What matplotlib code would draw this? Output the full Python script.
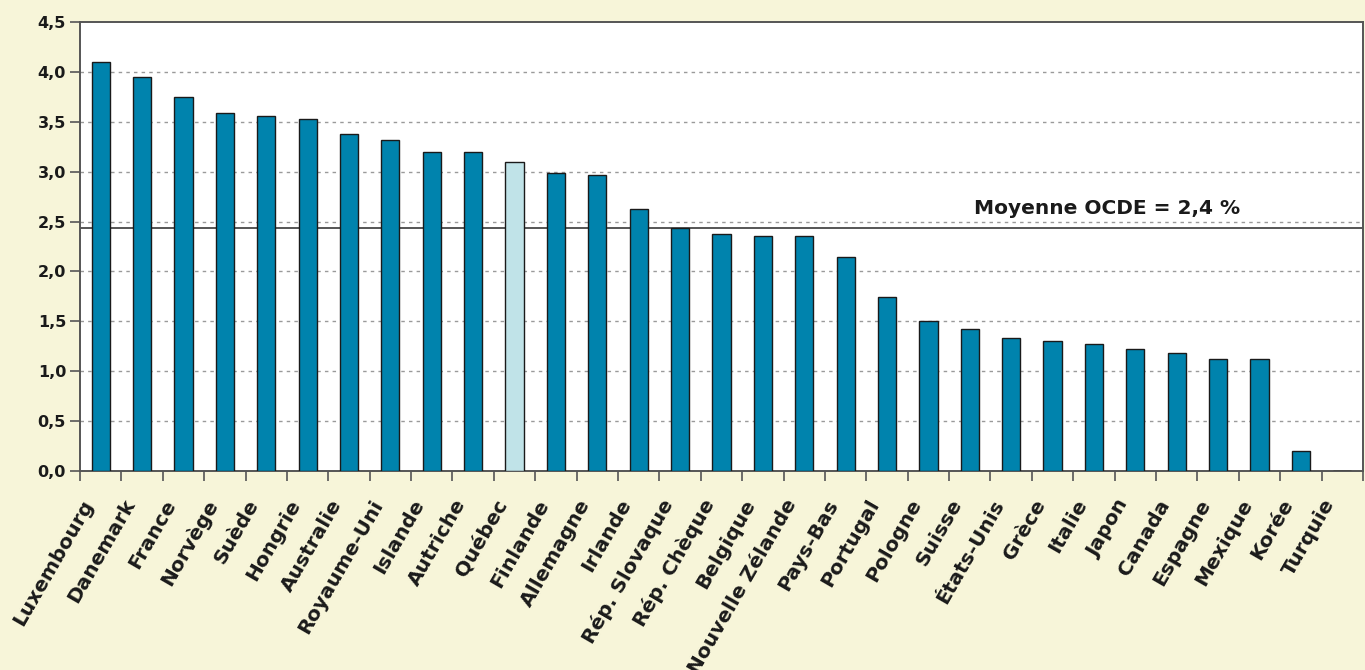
import matplotlib
matplotlib.use("Agg")
import matplotlib.pyplot as plt
import matplotlib.transforms as mtransforms
import numpy as np

countries = ["Luxembourg", "Danemark", "France", "Norvège", "Suède", "Hongrie",
             "Australie", "Royaume-Uni", "Islande", "Autriche", "Québec", "Finlande",
             "Allemagne", "Irlande", "Rép. Slovaque", "Rép. Chèque", "Belgique",
             "Nouvelle Zélande", "Pays-Bas", "Portugal", "Pologne", "Suisse",
             "États-Unis", "Grèce", "Italie", "Japon", "Canada", "Espagne",
             "Mexique", "Korée", "Turquie"]
values = [4.10, 3.95, 3.75, 3.59, 3.56, 3.53, 3.38, 3.32, 3.20, 3.20, 3.10, 2.99,
          2.97, 2.63, 2.44, 2.38, 2.36, 2.36, 2.15, 1.74, 1.50, 1.42, 1.33, 1.30,
          1.27, 1.22, 1.18, 1.12, 1.12, 0.20, 0.0]
highlight = "Québec"
oecd_mean = 2.44
mean_label = "Moyenne OCDE = 2,4 %"
yticks = [0.0, 0.5, 1.0, 1.5, 2.0, 2.5, 3.0, 3.5, 4.0, 4.5]

BG = "#F7F5D9"
BAR = "#0083AD"
BAR_HI = "#C0E3E8"
EDGE = "#1a1a1a"

plt.rcParams['font.family'] = ['DejaVu Sans']

fig = plt.figure(figsize=(13.65, 6.70), dpi=100, facecolor=BG)
ax = fig.add_axes([0.0586, 0.297, 0.9399, 0.670])
ax.set_facecolor("white")

x = np.arange(len(countries))
colors = [BAR_HI if c == highlight else BAR for c in countries]
ax.bar(x, values, width=0.44, color=colors, edgecolor=EDGE, linewidth=1.0, zorder=3)

ax.set_xlim(-0.5, len(countries) - 0.5)
ax.set_ylim(0, 4.5)

for t in yticks[1:-1]:
    ax.axhline(t, color="#9a9a9a", linestyle=(0, (2.5, 3)), linewidth=1.0, zorder=1)

ax.axhline(oecd_mean, color="#555555", linewidth=1.4, zorder=2)
ax.text(21.1, oecd_mean + 0.1, mean_label, fontsize=14.5, fontweight="bold",
        color="#1a1a1a", ha="left", va="bottom", zorder=4)

ax.set_yticks(yticks)
ax.set_yticklabels([f"{t:.1f}".replace(".", ",") for t in yticks],
                   fontsize=11.5, fontweight="bold", color="#1a1a1a")
ax.set_xticks(np.arange(len(countries) + 1) - 0.5)
ax.set_xticklabels([])

# category labels, rotated
offset = mtransforms.ScaledTranslation(-20 / 100, -25 / 100, fig.dpi_scale_trans)
trans = ax.get_xaxis_transform() + offset
for i, name in enumerate(countries):
    ax.text(i, 0, name, transform=trans, rotation=60, ha="right", va="top",
            rotation_mode="anchor", fontsize=14.5, fontweight="bold",
            color="#1a1a1a", clip_on=False)

ax.tick_params(axis="x", which="major", length=7, width=1.2, color="#555555", direction="out")
ax.tick_params(axis="y", length=7, width=1.2, color="#555555", direction="out", pad=3)

for side in ["left", "bottom", "top", "right"]:
    ax.spines[side].set_color("#555555")
    ax.spines[side].set_linewidth(1.4)

fig.savefig("out.png", dpi=100, facecolor=BG)
